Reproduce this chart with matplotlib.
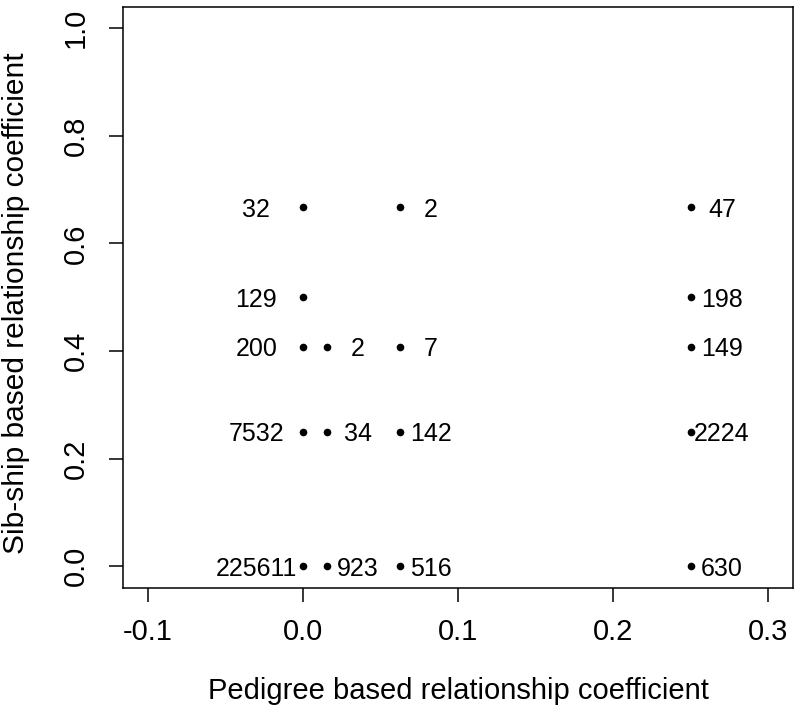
import matplotlib.pyplot as plt

plt.rcParams['font.family'] = ['Liberation Sans', 'DejaVu Sans']

# pedigree coefficient, sib-ship coefficient, count
ped = [0, 0.0625, 0.25,
       0, 0.25,
       0, 0.015625, 0.0625, 0.25,
       0, 0.015625, 0.0625, 0.25,
       0, 0.015625, 0.0625, 0.25]
sib = [0.667, 0.667, 0.667,
       0.5, 0.5,
       0.408, 0.408, 0.408, 0.408,
       0.25, 0.25, 0.25, 0.25,
       0, 0, 0, 0]
counts = ['32', '2', '47',
          '129', '198',
          '200', '2', '7', '149',
          '7532', '34', '142', '2224',
          '225611', '923', '516', '630']

fig = plt.figure(figsize=(8, 7.13), dpi=100)
ax = fig.add_axes([0.1534, 0.1757, 0.8382, 0.8149])

ax.plot(ped, sib, 'o', color='black', markersize=5.5, markeredgewidth=0)

for x, y, lab in zip(ped, sib, counts):
    # labels at x == 0 go left of the point, the rest to the right
    dx = -0.03 if x == 0 else 0.02
    ax.text(x + dx, y, lab, ha='center', va='center_baseline', fontsize=18)

ax.set_xlim(-0.116, 0.316)
ax.set_ylim(-0.04, 1.04)
ax.set_xticks([-0.1, 0.0, 0.1, 0.2, 0.3])
ax.set_xticklabels(['-0.1', '0.0', '0.1', '0.2', '0.3'])
ax.set_yticks([0.0, 0.2, 0.4, 0.6, 0.8, 1.0])
ax.set_yticklabels(['0.0', '0.2', '0.4', '0.6', '0.8', '1.0'], rotation=90, va='center')

for s in ax.spines.values():
    s.set_linewidth(1.1)
ax.tick_params(length=10, width=1.1, labelsize=21, pad=12)
ax.tick_params(axis='y', pad=14)

ax.set_xlabel('Pedigree based relationship coefficient', fontsize=21, labelpad=22)
ax.set_ylabel('Sib-ship based relationship coefficient', fontsize=21.5)
ax.yaxis.set_label_coords(-0.138, 0.49)

fig.savefig('out.png', dpi=100)
